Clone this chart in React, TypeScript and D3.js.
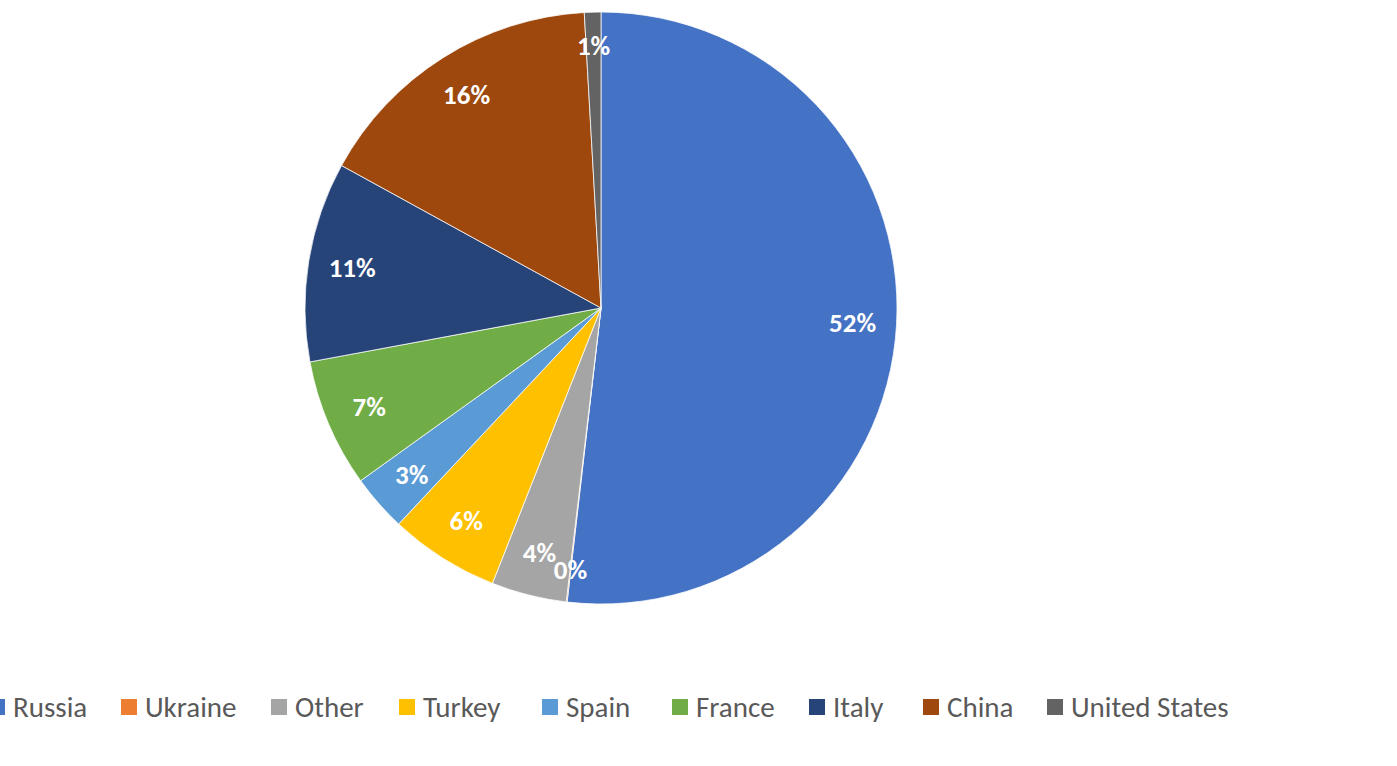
import React from "react";
import * as d3 from "d3";

const categories = ["Russia", "Ukraine", "Other", "Turkey", "Spain", "France", "Italy", "China", "United States"];
const values = [51.8, 0.05, 4.1, 6.0, 3.1, 7.0, 10.9, 16.1, 0.9];
const colors = ["#4472C4", "#ED7D31", "#A5A5A5", "#FFC000", "#5B9BD5", "#70AD47", "#264478", "#9E480E", "#636363"];

// layout constants
const W = 1397;
const H = 766;
const CX = 601;
const CY = 308;
const R = 296;
const LABEL_R = 252;
const SMALL_LABEL_R = 263;
const legendSquareX = [-11, 121, 271, 399, 542, 672, 809, 923, 1047];
const LEGEND_Y = 707;
const FONT = "Carlito, Calibri, Lato, 'Open Sans', sans-serif";

export default function App() {
  const total = d3.sum(values);
  const pie = d3.pie<number>().sort(null).value((d) => d);
  const arcs = pie(values);
  const arcGen = d3.arc<d3.PieArcDatum<number>>().innerRadius(0).outerRadius(R);
  const labelArc = d3.arc<d3.PieArcDatum<number>>().innerRadius(LABEL_R).outerRadius(LABEL_R);
  const smallLabelArc = d3.arc<d3.PieArcDatum<number>>().innerRadius(SMALL_LABEL_R).outerRadius(SMALL_LABEL_R);
  const fmt = (v: number) => `${Math.round((v / total) * 100)}%`;

  return (
    <svg width={W} height={H} style={{ position: "absolute", left: 0, top: 0, background: "#fff" }}>
      <g transform={`translate(${CX},${CY})`}>
        {arcs.map((a, i) => (
          <path key={i} d={arcGen(a) || ""} fill={colors[i]} stroke="#fff" strokeWidth={0.75} />
        ))}
        {arcs.map((a, i) => {
          const small = values[i] / total < 0.02;
          const [x, y] = (small ? smallLabelArc : labelArc).centroid(a);
          return (
            <text
              key={"l" + i}
              x={x}
              y={y}
              textAnchor="middle"
              dominantBaseline="central"
              fill="#fff"
              fontFamily={FONT}
              fontWeight="bold"
              fontSize={27}
            >
              {fmt(values[i])}
            </text>
          );
        })}
      </g>
      <g>
        {categories.map((c, i) => (
          <g key={c}>
            <rect x={legendSquareX[i]} y={LEGEND_Y - 8} width={16} height={16} fill={colors[i]} />
            <text
              x={legendSquareX[i] + 24}
              y={LEGEND_Y}
              dominantBaseline="central"
              fill="#595959"
              fontFamily={FONT}
              fontSize={29}
            >
              {c}
            </text>
          </g>
        ))}
      </g>
    </svg>
  );
}
